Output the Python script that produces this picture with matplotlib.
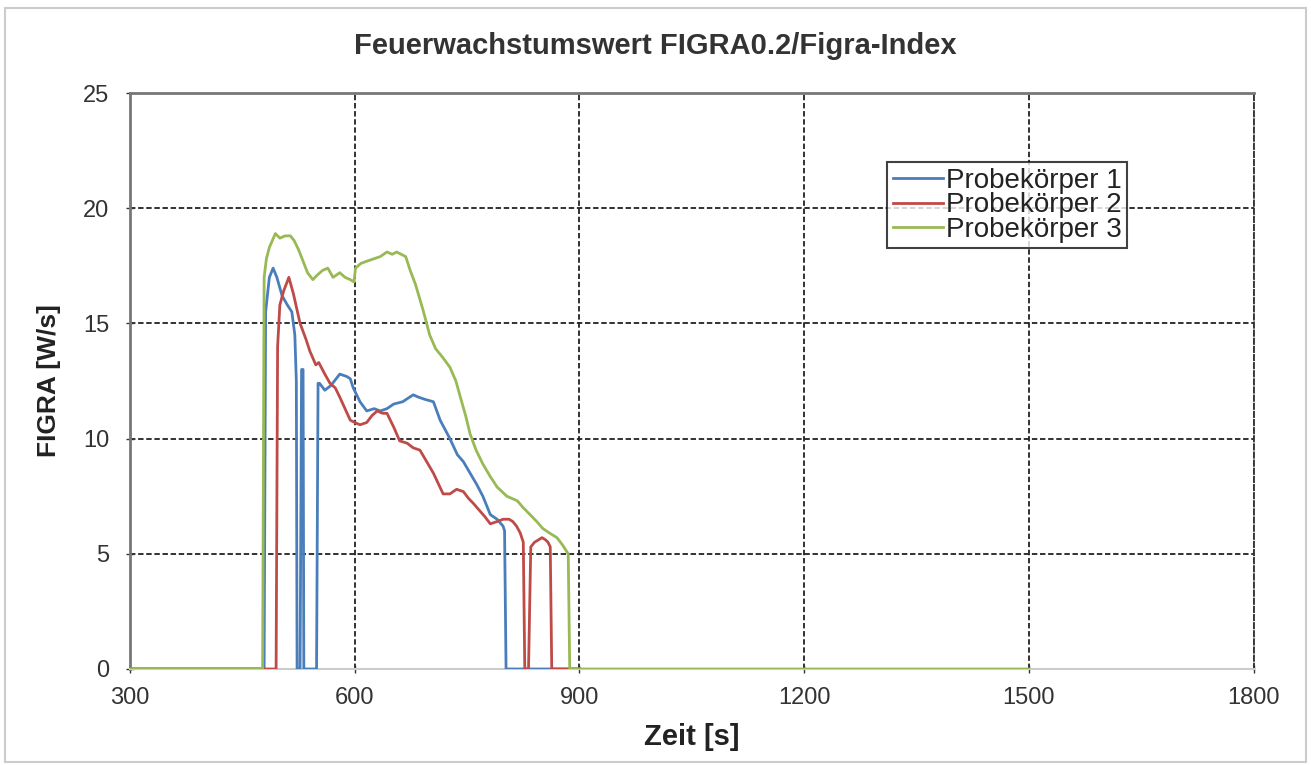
import matplotlib

matplotlib.use("Agg")
import matplotlib.pyplot as plt
from matplotlib.patches import Rectangle

plt.rcParams["font.family"] = ["Liberation Sans", "DejaVu Sans"]

# Probekörper 1
t1 = [300, 479, 481, 486, 491, 496, 503, 510, 516, 520, 522, 523, 527, 529, 531, 532,
      534, 549, 551, 553, 560, 568, 580, 589, 594, 598, 607, 616, 626, 634, 643, 652,
      664, 678, 685, 694, 705, 714, 727, 737, 745, 754, 763, 771, 781, 790, 798, 800,
      802, 900]
v1 = [0, 0, 15.5, 17.0, 17.4, 17.0, 16.2, 15.8, 15.5, 14.5, 12.5, 0, 0, 13.0, 13.0, 0,
      0, 0, 12.4, 12.4, 12.1, 12.3, 12.8, 12.7, 12.6, 12.2, 11.6, 11.2, 11.3, 11.2, 11.3,
      11.5, 11.6, 11.9, 11.8, 11.7, 11.6, 10.8, 10.0, 9.3, 9.0, 8.5, 8.0, 7.5, 6.7, 6.5,
      6.2, 6.0, 0, 0]

# Probekörper 2
t2 = [300, 495, 497, 500, 505, 512, 518, 527, 535, 540, 548, 552, 560, 567, 574, 580,
      587, 594, 600, 607, 616, 623, 630, 637, 643, 652, 660, 670, 678, 687, 696, 705,
      718, 727, 736, 745, 752, 758, 766, 774, 781, 790, 798, 806, 811, 816, 821, 825,
      827, 832, 835, 840, 845, 850, 855, 858, 861, 863, 900]
v2 = [0, 0, 14.0, 15.8, 16.4, 17.0, 16.3, 15.0, 14.3, 13.8, 13.2, 13.3, 12.8, 12.4, 12.2,
      11.8, 11.3, 10.8, 10.7, 10.6, 10.7, 11.0, 11.2, 11.1, 11.1, 10.5, 9.9, 9.8, 9.6,
      9.5, 9.0, 8.5, 7.6, 7.6, 7.8, 7.7, 7.4, 7.2, 6.9, 6.6, 6.3, 6.4, 6.5, 6.5, 6.4, 6.2,
      5.9, 5.5, 0, 0, 5.3, 5.5, 5.6, 5.7, 5.6, 5.5, 5.3, 0, 0]

# Probekörper 3
t3 = [300, 477, 479, 482, 486, 490, 494, 500, 507, 514, 519, 525, 531, 537, 544, 550,
      557, 564, 571, 580, 587, 594, 599, 601, 608, 616, 625, 634, 643, 650, 656, 662,
      668, 674, 681, 691, 700, 708, 718, 727, 735, 741, 748, 754, 762, 771, 780, 790,
      803, 817, 825, 834, 843, 851, 860, 870, 877, 883, 885, 887, 1500]
v3 = [0, 0, 17.0, 17.8, 18.3, 18.6, 18.9, 18.7, 18.8, 18.8, 18.6, 18.2, 17.7, 17.2,
      16.9, 17.1, 17.3, 17.4, 17.0, 17.2, 17.0, 16.9, 16.8, 17.4, 17.6, 17.7, 17.8,
      17.9, 18.1, 18.0, 18.1, 18.0, 17.9, 17.3, 16.7, 15.6, 14.5, 13.9, 13.5, 13.1,
      12.5, 11.8, 11.0, 10.2, 9.5, 8.9, 8.4, 7.9, 7.5, 7.3, 7.0, 6.7, 6.4, 6.1, 5.9,
      5.7, 5.4, 5.1, 5.0, 0, 0]

labels = ["Probekörper 1", "Probekörper 2", "Probekörper 3"]
colors = ["#4a7ebb", "#be4b48", "#98b954"]
x_ticks = [300, 600, 900, 1200, 1500, 1800]
y_ticks = [0, 5, 10, 15, 20, 25]

fig = plt.figure(figsize=(13.11, 7.65), dpi=100)
ax = fig.add_axes([0.0992, 0.1255, 0.857, 0.7529])

for t, v, label, color in zip([t1, t2, t3], [v1, v2, v3], labels, colors):
    ax.plot(t, v, color=color, lw=2.0, label=label, zorder=3)

ax.set_xlim(300, 1800)
ax.set_ylim(0, 25)
ax.set_xticks(x_ticks)
ax.set_yticks(y_ticks)
ax.grid(True, color="#222222", linestyle=(0, (3, 1.5)), linewidth=1.3, zorder=1)

for side in ["left", "top"]:
    ax.spines[side].set_color("#777777")
    ax.spines[side].set_linewidth(2)
ax.spines["right"].set_color("#333333")
ax.spines["right"].set_linestyle((0, (3, 1.5)))
ax.spines["right"].set_linewidth(1.3)
ax.spines["bottom"].set_color("#cccccc")
ax.spines["bottom"].set_linewidth(1.5)

ax.tick_params(axis="both", labelsize=17, colors="#333333", direction="inout",
               length=6, width=1)
ax.tick_params(axis="x", pad=10)
ax.tick_params(axis="y", pad=12)

ax.set_xlabel("Zeit [s]", fontsize=21, fontweight="bold", color="#222222", labelpad=10)
ax.set_ylabel("FIGRA [W/s]", fontsize=19, fontweight="bold", color="#222222", labelpad=16)
fig.suptitle("Feuerwachstumswert FIGRA0.2/Figra-Index", fontsize=21, fontweight="bold",
             color="#333333", y=0.958)

leg = ax.legend(loc="upper left", bbox_to_anchor=(0.674, 0.88), borderaxespad=0,
                fontsize=20, labelspacing=-0.05, handlelength=1.8, handletextpad=0.1,
                borderpad=0.2, fancybox=False, frameon=True)
leg.get_frame().set_edgecolor("#111111")
leg.get_frame().set_linewidth(1.5)
for txt in leg.get_texts():
    txt.set_color("#222222")

fig.patches.append(Rectangle((0.004, 0.004), 0.992, 0.986, transform=fig.transFigure,
                             fill=False, edgecolor="#cccccc", linewidth=1.5))

fig.savefig("out.png", dpi=100)
